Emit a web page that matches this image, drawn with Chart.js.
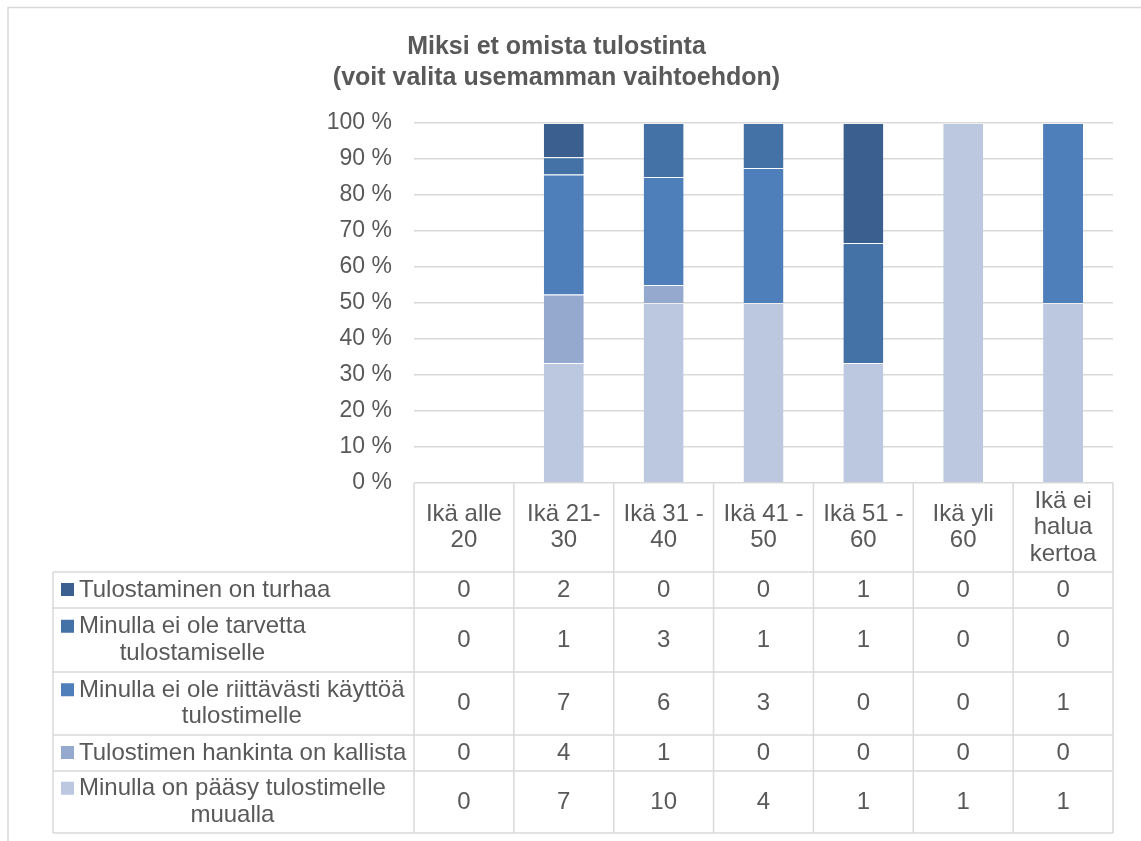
<!DOCTYPE html>
<html>
<head>
<meta charset="utf-8">
<script src="https://cdn.jsdelivr.net/npm/chart.js@4/dist/chart.umd.min.js"></script>
<style>
  html,body{margin:0;padding:0;background:#fff;}
  #wrap{position:relative;width:1141px;height:841px;}
</style>
</head>
<body>
<div id="wrap"><canvas id="c" width="1141" height="841"></canvas></div>
<script>
/* ---------- data ---------- */
const titleLines=['Miksi et omista tulostinta','(voit valita usemamman vaihtoehdon)'];
const ageGroups=[['Ikä alle','20'],['Ikä 21-','30'],['Ikä 31 -','40'],['Ikä 41 -','50'],['Ikä 51 -','60'],['Ikä yli','60'],['Ikä ei','halua','kertoa']];

// counts, as in the data table (top row first)
const turhaa  =[0,2,0,0,1,0,0];
const tarvetta=[0,1,3,1,1,0,0];
const riittava=[0,7,6,3,0,0,1];
const kallista=[0,4,1,0,0,0,0];
const paasy   =[0,7,10,4,1,1,1];

const seriesNames=[
  ['Tulostaminen on turhaa'],
  ['Minulla ei ole tarvetta','tulostamiselle'],
  ['Minulla ei ole riittävästi käyttöä','tulostimelle'],
  ['Tulostimen hankinta on kallista'],
  ['Minulla on pääsy tulostimelle','muualla']
];
const seriesData=[turhaa,tarvetta,riittava,kallista,paasy];
const seriesColors=['#3B5F8E','#4472A7','#4E7FBA','#95A9CF','#BCC8E0'];
const yTicks=[0,10,20,30,40,50,60,70,80,90,100];

/* ---------- helpers ---------- */
const FONT='"Liberation Sans", Arial, sans-serif';
const TXT='#595959', GRID='#d9d9d9';
const totals=ageGroups.map((_,i)=>seriesData.reduce((s,a)=>s+a[i],0));
const pct=arr=>arr.map((v,i)=>totals[i]?v/totals[i]*100:0);

// stacking goes bottom-up, so reverse the table order
const datasets=seriesData.map((d,k)=>({
  label:seriesNames[k].join(' '),
  data:pct(d),
  backgroundColor:seriesColors[k],
  borderColor:'rgba(255,255,255,0.18)',
  borderWidth:{top:1,bottom:0,left:0,right:0},
  barPercentage:0.4,
  categoryPercentage:1
})).reverse();

/* ---------- table plugin ---------- */
const headerH=89, rowH=[36,64,63,36,62], lineGap=26.5, tableLeft=53, textLeft=79;
const dataTable={
  id:'dataTable',
  beforeDraw(chart){
    const c=chart.ctx;
    c.save();
    c.strokeStyle=GRID;c.lineWidth=1.5;
    c.beginPath();c.moveTo(8,841);c.lineTo(8,7.5);c.lineTo(1141,7.5);c.stroke();
    c.restore();
  },
  afterDraw(chart){
    const c=chart.ctx, xs=chart.scales.x, area=chart.chartArea;
    const centers=ageGroups.map((_,i)=>xs.getPixelForValue(i));
    const half=(centers[1]-centers[0])/2;
    const right=centers[centers.length-1]+half;
    const top=area.bottom, hBottom=top+headerH;
    const bottom=hBottom+rowH.reduce((s,h)=>s+h,0);
    c.save();
    c.strokeStyle=GRID;c.lineWidth=1.5;
    c.beginPath();
    // column lines
    centers.forEach(x=>{c.moveTo(x-half,top);c.lineTo(x-half,bottom);});
    c.moveTo(right,top);c.lineTo(right,bottom);
    // left column
    c.moveTo(tableLeft,hBottom);c.lineTo(tableLeft,bottom);
    // row lines
    let y=hBottom;
    c.moveTo(tableLeft,y);c.lineTo(right,y);
    rowH.forEach(h=>{y+=h;c.moveTo(tableLeft,y);c.lineTo(right,y);});
    c.stroke();

    c.fillStyle=TXT;c.font='24px '+FONT;c.textBaseline='middle';
    // header labels
    c.textAlign='center';
    ageGroups.forEach((lines,i)=>{
      const mid=top+headerH/2, y0=mid-(lines.length-1)*lineGap/2;
      lines.forEach((t,j)=>c.fillText(t,centers[i],y0+j*lineGap));
    });
    // rows
    let ry=hBottom;
    seriesNames.forEach((lines,k)=>{
      const mid=ry+rowH[k]/2, y0=mid-(lines.length-1)*lineGap/2;
      c.fillStyle=seriesColors[k];
      c.fillRect(61,y0-7,13,13);
      c.fillStyle=TXT;
      const w=Math.max(...lines.map(t=>c.measureText(t).width));
      c.textAlign='center';
      lines.forEach((t,j)=>c.fillText(t,textLeft+w/2,y0+j*lineGap));
      seriesData[k].forEach((v,i)=>c.fillText(String(v),centers[i],mid));
      ry+=rowH[k];
    });
    c.restore();
  }
};

/* ---------- chart ---------- */
new Chart(document.getElementById('c'),{
  type:'bar',
  data:{labels:ageGroups,datasets},
  options:{
    responsive:false,animation:false,
    layout:{padding:{left:0,right:28,top:0,bottom:358}},
    plugins:{
      legend:{display:false},tooltip:{enabled:false},
      title:{display:true,text:titleLines,color:TXT,
        font:{family:FONT,size:25,weight:'bold',lineHeight:1.24},
        padding:{top:32,bottom:29}}
    },
    scales:{
      x:{stacked:true,display:false},
      y:{stacked:true,min:0,max:100,
        afterBuildTicks:s=>{s.ticks=yTicks.map(v=>({value:v}));},
        afterFit:s=>{s.width=414;},
        ticks:{color:TXT,padding:22,font:{family:FONT,size:23},callback:v=>v+' %'},
        grid:{color:GRID,lineWidth:1.5,drawTicks:false},
        border:{display:false}}
    }
  },
  plugins:[dataTable]
});
</script>
</body>
</html>
